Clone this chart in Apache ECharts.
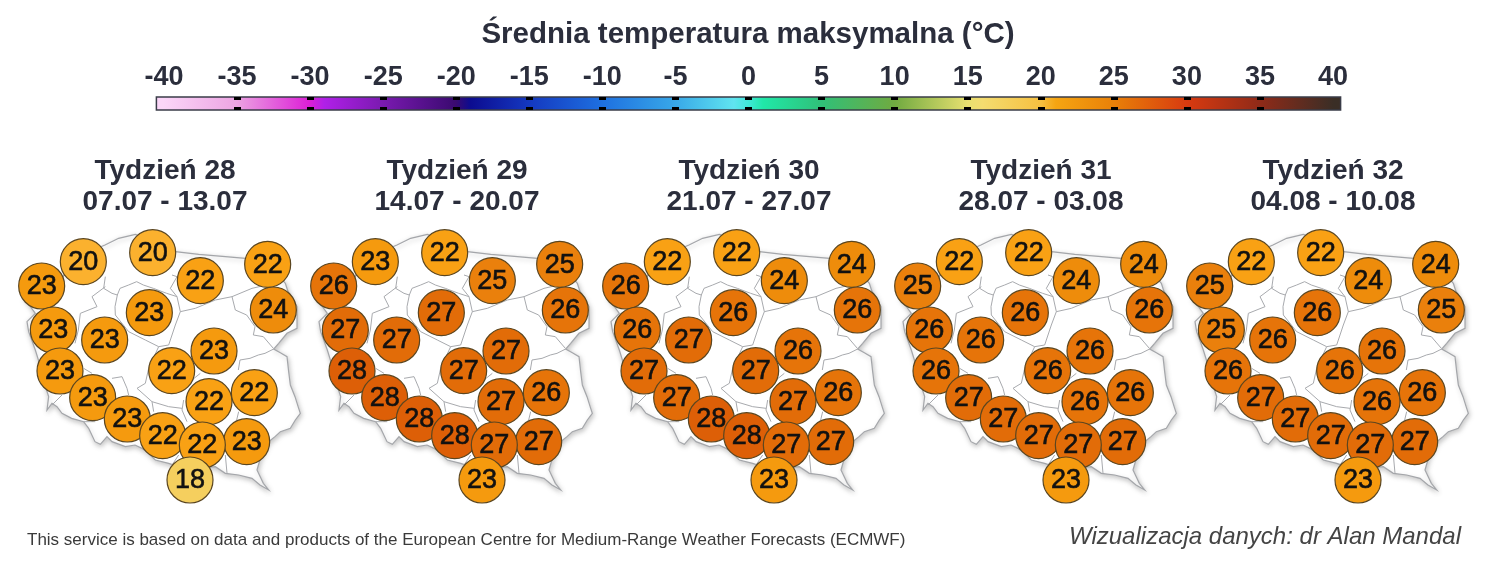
<!DOCTYPE html>
<html><head><meta charset="utf-8">
<style>html,body{margin:0;background:#fff}#c{width:1502px;height:570px}</style>
<script src="https://cdn.jsdelivr.net/npm/echarts@6/dist/echarts.min.js"></script>
</head><body><div id="c"></div>
<script>
const weekNames = ['Tydzień 28','Tydzień 29','Tydzień 30','Tydzień 31','Tydzień 32'];
const weekDates = ['07.07 - 13.07','14.07 - 20.07','21.07 - 27.07','28.07 - 03.08','04.08 - 10.08'];
const stationX = [95,220,428,571,773,790,418,130,284,612,150,485,597,733,248,352,458,710,577,540];
const stationY = [198,125,98,182,133,270,278,330,360,393,453,452,545,518,533,597,647,665,675,780];
const week28 = [23,20,20,22,22,24,23,23,23,23,23,22,22,22,23,23,22,23,22,18];
const week29 = [26,23,22,25,25,26,27,27,27,27,28,27,27,26,28,28,28,27,27,23];
const week30 = [26,22,22,24,24,26,26,26,27,26,27,27,27,26,27,28,28,27,27,23];
const week31 = [25,22,22,24,24,26,26,26,26,26,26,26,26,26,27,27,27,27,27,23];
const week32 = [25,22,22,24,24,25,26,25,26,26,26,26,26,26,27,27,27,27,27,23];
const weeks = [week28,week29,week30,week31,week32];
const tempKeys = [18,19,20,21,22,23,24,25,26,27,28];
const tempColors = ['#f5cf5e','#f8bd42','#fbb12e','#faa81f','#f9a114','#f59a0e','#ee8c0b','#ea800c','#e67409','#e26c08','#dd5f07'];
const scaleValues = [-40,-35,-30,-29,-25,-20,-19,-15,-10,-5,-1,0,1,5,10,15,16,20,21,25,30,35,40];
const scaleColors = ['#fbd6f8','#eca4e2','#dc1fd6','#b020e8','#7a1ab0','#3a0a70','#0c0c90','#1438c0','#1e70e0','#38a8e8','#60e4f0','#40e8d8','#20e8a8','#30c078','#70aa40','#e8e070','#f4dc70','#f6c040','#f5a512','#e98008','#d83a10','#8f2a18','#3a2e26'];
const scaleTicks = [-40,-35,-30,-25,-20,-15,-10,-5,0,5,10,15,20,25,30,35,40];
const scaleInnerTicks = [-35,-30,-25,-20,-15,-10,-5,0,5,10,15,20,25,30,35];
const scaleEnds = [-40.52,40.52];
const mapOutline = [[150,180],[215,105],[285,75],[326,55],[376,43],[450,70],[496,95],[566,103],[646,110],[706,115],[790,150],[826,190],[833,212],[861,260],[861,325],[831,340],[806,370],[791,387],[811,398],[831,410],[836,455],[841,495],[855,530],[866,565],[871,580],[856,600],[841,625],[811,635],[795,650],[776,665],[751,715],[741,750],[760,790],[776,810],[750,795],[726,775],[686,765],[646,760],[616,740],[560,745],[520,745],[476,730],[436,720],[415,700],[396,685],[375,675],[346,680],[306,665],[291,650],[271,673],[255,665],[236,625],[221,605],[185,595],[156,580],[141,560],[126,550],[111,570],[116,530],[100,480],[96,455],[76,390],[56,335],[51,305],[76,280],[40,230],[95,200]];
const mapBorders = [
 [[286,170],[281,205],[306,220],[322,225],[330,205],[356,195],[380,185],[400,195],[430,205],[470,220],[501,230],[481,205],[501,170],[486,165]],
 [[322,225],[315,260],[316,285],[356,335],[406,360],[446,380],[476,375],[486,345],[496,315],[511,275],[556,265],[616,240],[666,230],[726,205],[770,195]],
 [[501,230],[511,275]],
 [[286,200],[246,230],[261,260],[211,280],[205,330],[195,370]],
 [[666,230],[676,270],[710,285],[735,320],[730,345],[760,350],[790,385]],
 [[791,387],[765,400],[745,405],[720,415],[690,420],[685,450]],
 [[686,575],[680,600],[646,640]],
 [[646,705],[651,760]],
 [[571,460],[546,480]],
 [[521,540],[516,570],[531,605]],
 [[446,380],[416,445],[406,490],[381,505],[426,545],[476,560],[516,565]],
 [[426,545],[431,575]],
 [[506,705],[486,735]],
 [[306,475],[336,470],[351,505],[356,525]],
 [[221,445],[246,460]],
 [[126,555],[156,525]],
 [[221,605],[256,605]]
];
const panelLeft = [10,302,594,886,1178];

const chart = echarts.init(document.getElementById('c'));
const colorOf = v => tempColors[tempKeys.indexOf(v)];
const textColor = '#2b2e3c';
const grids = [{left:164,width:1169,top:97,height:13}];
const xAxes = [
 {gridIndex:0,type:'value',min:-40,max:40,interval:5,position:'top',z:10,splitLine:{show:false},axisLine:{show:false,onZero:false},
  axisTick:{show:true,inside:true,length:3,customValues:scaleInnerTicks,lineStyle:{color:'#000',width:7}},
  axisLabel:{show:true,customValues:scaleTicks,margin:6,color:textColor,fontFamily:'Liberation Sans',fontWeight:'bold',fontSize:27}},
 {gridIndex:0,type:'value',min:-40,max:40,interval:5,position:'bottom',z:10,splitLine:{show:false},axisLine:{show:false,onZero:false},
  axisTick:{show:true,inside:true,length:3,customValues:scaleInnerTicks,lineStyle:{color:'#000',width:7}},axisLabel:{show:false}}
];
const yAxes = [{gridIndex:0,type:'value',min:0,max:1,show:false}];
const series = [{
 type:'custom',xAxisIndex:0,yAxisIndex:0,coordinateSystem:'cartesian2d',clip:false,silent:true,z:1,
 data:[scaleEnds],encode:{x:[0,1]},
 renderItem(p,api){
  const a=api.coord([scaleEnds[0],1]),b=api.coord([scaleEnds[1],0]);
  const span=scaleEnds[1]-scaleEnds[0];
  const stops=scaleValues.map((v,i)=>({offset:(v-scaleEnds[0])/span,color:scaleColors[i]}));
  return {type:'rect',shape:{x:a[0],y:a[1],width:b[0]-a[0],height:b[1]-a[1]},
   style:{fill:new echarts.graphic.LinearGradient(0,0,1,0,stops),stroke:'#3a3c48',lineWidth:1.5}};
 }
}];
const titles = [
 {text:'Średnia temperatura maksymalna (°C)',left:748,top:35,padding:0,textAlign:'center',textVerticalAlign:'middle',
  textStyle:{color:textColor,fontFamily:'Liberation Sans',fontWeight:'bold',fontSize:29.5}},
 {text:'This service is based on data and products of the European Centre for Medium-Range Weather Forecasts (ECMWF)',left:27,top:540,padding:0,textVerticalAlign:'middle',
  textStyle:{color:'#3a3a3a',fontFamily:'Liberation Sans',fontWeight:'normal',fontSize:17}},
 {text:'Wizualizacja danych: dr Alan Mandal',left:1069,top:537,padding:0,textVerticalAlign:'middle',
  textStyle:{color:'#444',fontFamily:'Liberation Sans',fontWeight:'normal',fontStyle:'italic',fontSize:24}}
];
weeks.forEach((vals,w)=>{
 const g=w+1;
 grids.push({left:panelLeft[w],top:220,width:300,height:290});
 xAxes.push({gridIndex:g,type:'value',min:0,max:900,show:false});
 yAxes.push({gridIndex:g,type:'value',min:0,max:870,inverse:true,show:false});
 titles.push({text:weekNames[w]+'\n'+weekDates[w],left:panelLeft[w]+155,top:156,padding:0,textAlign:'center',
  textStyle:{color:textColor,fontFamily:'Liberation Sans',fontWeight:'bold',fontSize:28,lineHeight:31}});
 series.push({
  type:'custom',xAxisIndex:g+1,yAxisIndex:g,clip:false,silent:true,z:2,
  data:[[0,0]],
  renderItem(p,api){
   const pt=q=>api.coord(q);
   const kids=[{type:'polygon',shape:{points:mapOutline.map(pt)},
     style:{fill:'#fff',stroke:'#a4a6aa',lineWidth:1.2,shadowBlur:5,shadowColor:'rgba(0,0,0,0.22)',shadowOffsetX:1,shadowOffsetY:2}}];
   mapBorders.forEach(b=>kids.push({type:'polyline',shape:{points:b.map(pt)},style:{fill:null,stroke:'#a8aaae',lineWidth:1}}));
   return {type:'group',children:kids};
  }
 });
 series.push({
  type:'scatter',xAxisIndex:g+1,yAxisIndex:g,z:3,clip:false,symbol:'circle',symbolSize:46,silent:true,
  data:vals.map((v,i)=>[stationX[i],stationY[i],v]),
  itemStyle:{color:p=>colorOf(p.value[2]),borderColor:'#5b4620',borderWidth:1.2,opacity:1},
  label:{show:true,position:'inside',offset:[0,1],formatter:p=>String(p.value[2]),color:'#111',
   fontFamily:'Liberation Sans',fontSize:27,fontWeight:'normal',textBorderColor:'#111',textBorderWidth:0.6}
 });
});
chart.setOption({animation:false,backgroundColor:'#fff',title:titles,grid:grids,xAxis:xAxes,yAxis:yAxes,series});
</script></body></html>
